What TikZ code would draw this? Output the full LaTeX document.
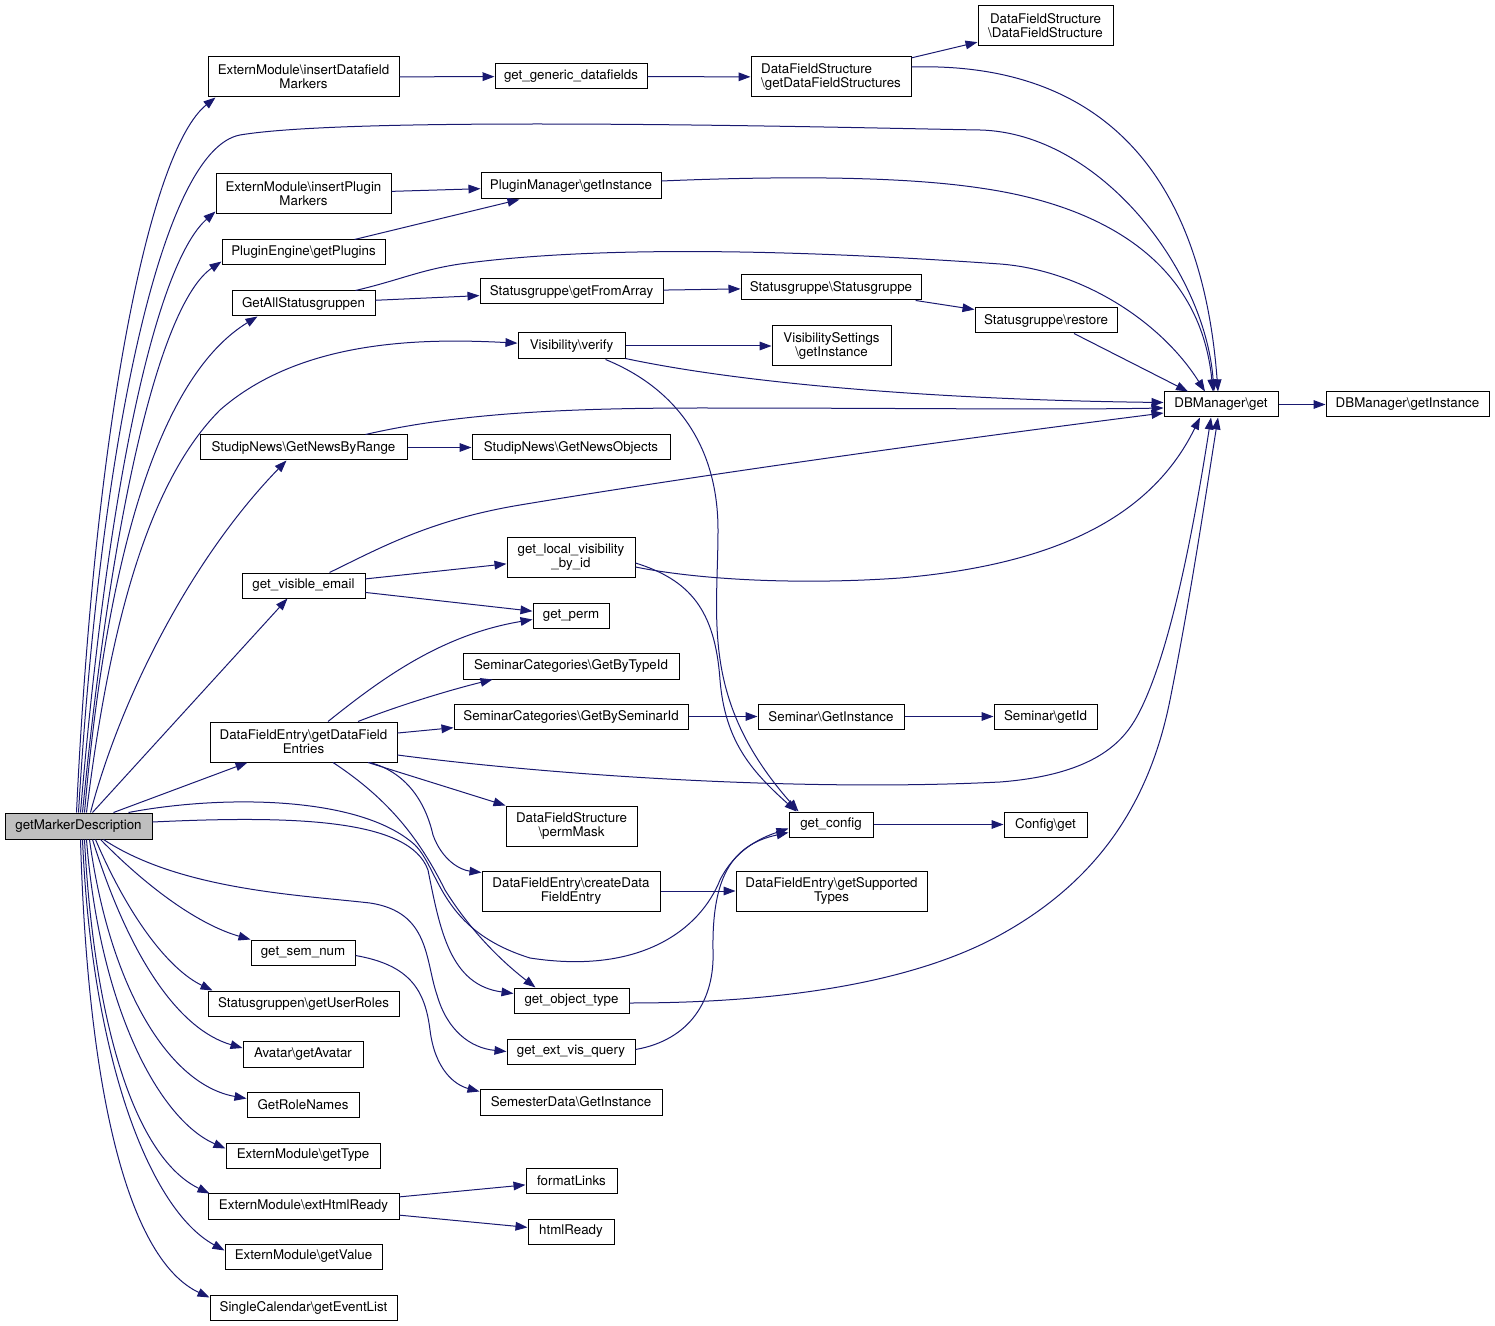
\documentclass[tikz,border=0pt]{standalone}
\usepackage{fontspec}
\setmainfont{TeX Gyre Heros}
\usetikzlibrary{arrows.meta,calc}
\definecolor{edgec}{HTML}{191970}
\definecolor{hl}{HTML}{BFBFBF}
\tikzset{
  fn/.style={draw=black, line width=0.75pt, fill=white, inner sep=0pt, align=center, font=\fontsize{10}{10.5}\selectfont},
  e/.style={draw=edgec, line width=0.75pt, -{Triangle[length=9pt,width=6.5pt]}, edgec},
}
\newcommand\mynode[7][]{%
  \pgfmathsetmacro\mnw{(#5-#3)*0.75}%
  \pgfmathsetmacro\mnh{(#6-#4)*0.75}%
  \node[fn,minimum width=\mnw pt,minimum height=\mnh pt,#1] (#2) at ({(#3+#5)/2},{(#4+#6)/2}) {#7};}
\begin{document}
\begin{tikzpicture}[x=0.75pt,y=-0.75pt]
\useasboundingbox (0,0) rectangle (1495,1326);
% nodes
\mynode[fill=hl]{gmd}{5}{813}{152}{839}{getMarkerDescription}
\mynode{eidm}{208}{57}{399}{97}{ExternModule\textbackslash insertDatafield\\Markers}
\mynode{ggd}{495}{64}{647}{89}{get\_generic\_datafields}
\mynode[align=left]{dfsget}{751}{57}{911}{97}{DataFieldStructure\\\textbackslash getDataFieldStructures}
\mynode{dfsdfs}{978}{6}{1113}{46}{DataFieldStructure\\\textbackslash DataFieldStructure}
\mynode{eipm}{216}{174}{391}{214}{ExternModule\textbackslash insertPlugin\\Markers}
\mynode{pmgi}{481}{173}{661}{199}{PluginManager\textbackslash getInstance}
\mynode{pegp}{222}{240}{385}{265}{PluginEngine\textbackslash getPlugins}
\mynode{gas}{232}{291}{375}{316}{GetAllStatusgruppen}
\mynode{sgfa}{480}{279}{663}{304}{Statusgruppe\textbackslash getFromArray}
\mynode{sgsg}{741}{275}{921}{300}{Statusgruppe\textbackslash Statusgruppe}
\mynode{sgr}{975}{308}{1117}{333}{Statusgruppe\textbackslash restore}
\mynode{vv}{518}{333}{625}{359}{Visibility\textbackslash verify}
\mynode{vsgi}{772}{326}{891}{366}{VisibilitySettings\\\textbackslash getInstance}
\mynode{dbget}{1164}{392}{1278}{417}{DBManager\textbackslash get}
\mynode{dbgi}{1326}{392}{1489}{417}{DBManager\textbackslash getInstance}
\mynode{sngr}{200}{435}{407}{460}{StudipNews\textbackslash GetNewsByRange}
\mynode{sngo}{472}{435}{670}{460}{StudipNews\textbackslash GetNewsObjects}
\mynode{gve}{242}{573}{365}{598}{get\_visible\_email}
\mynode{glv}{507}{537}{635}{577}{get\_local\_visibility\\\_by\_id}
\mynode{gp}{533}{603}{609}{628}{get\_perm}
\mynode{scti}{463}{653}{679}{679}{SeminarCategories\textbackslash GetByTypeId}
\mynode{dfe}{210}{722}{397}{762}{DataFieldEntry\textbackslash getDataField\\Entries}
\mynode{scsi}{454}{704}{688}{729}{SeminarCategories\textbackslash GetBySeminarId}
\mynode{sgi}{758}{704}{904}{729}{Seminar\textbackslash GetInstance}
\mynode{sgid}{994}{704}{1097}{729}{Seminar\textbackslash getId}
\mynode{pm}{506}{806}{637}{846}{DataFieldStructure\\\textbackslash permMask}
\mynode{gc}{789}{812}{873}{837}{get\_config}
\mynode{cg}{1004}{812}{1087}{837}{Config\textbackslash get}
\mynode{cdfe}{482}{871}{660}{911}{DataFieldEntry\textbackslash createData\\FieldEntry}
\mynode{gst}{736}{871}{927}{911}{DataFieldEntry\textbackslash getSupported\\Types}
\mynode{gsn}{251}{940}{355}{965}{get\_sem\_num}
\mynode{gur}{208}{991}{399}{1016}{Statusgruppen\textbackslash getUserRoles}
\mynode{got}{514}{988}{629}{1013}{get\_object\_type}
\mynode{gevq}{507}{1039}{635}{1064}{get\_ext\_vis\_query}
\mynode{ga}{243}{1041}{363}{1067}{Avatar\textbackslash getAvatar}
\mynode{sdgi}{480}{1089}{662}{1115}{SemesterData\textbackslash GetInstance}
\mynode{grn}{247}{1092}{359}{1117}{GetRoleNames}
\mynode{emgt}{226}{1143}{380}{1168}{ExternModule\textbackslash getType}
\mynode{fl}{526}{1168}{617}{1193}{formatLinks}
\mynode{ehr}{208}{1193}{399}{1219}{ExternModule\textbackslash extHtmlReady}
\mynode{hr}{528}{1219}{614}{1244}{htmlReady}
\mynode{egv}{225}{1244}{382}{1269}{ExternModule\textbackslash getValue}
\mynode{sce}{210}{1295}{397}{1320}{SingleCalendar\textbackslash getEventList}
% edges
\draw[e] (eidm) -- (ggd);
\draw[e] (ggd) -- (dfsget);
\draw[e] (dfsget) -- (dfsdfs);
\draw[e] ($(dfsget.east)+(0,-10)$) .. controls (1080,62) and (1200,150) .. ($(dbget.north)+(-3,0)$);
\draw[e] (gmd.north) .. controls (100,450) and (160,150) .. (240,135) .. controls (360,115) and (860,128) .. (980,130) .. controls (1100,133) and (1205,270) .. ($(dbget.north)+(-7,0)$);
\draw[e] ($(gmd.north)+(-2,0)$) .. controls (95,420) and (150,150) .. ($(eidm.south west)+(8,0)$);
\draw[e] ($(gmd.north)+(2,0)$) .. controls (110,460) and (160,260) .. ($(eipm.south west)+(0,-3)$);
\draw[e] ($(gmd.north)+(4,0)$) .. controls (115,480) and (165,300) .. ($(pegp.south west)+(0,-4)$);
\draw[e] ($(gmd.north)+(6,0)$) .. controls (110,520) and (170,370) .. ($(gas.south west)+(26,0)$);
\draw[e] ($(gmd.north)+(8,0)$) .. controls (110,620) and (150,480) .. (220,410) .. controls (300,340) and (420,338) .. (vv);
\draw[e] ($(gmd.north)+(12,0)$) .. controls (120,700) and (190,560) .. ($(sngr.south west)+(87,0)$);
\draw[e] ($(gmd.north)+(14,0)$) -- ($(gve.south west)+(46,0)$);
\draw[e] ($(gmd.north)+(35,0)$) -- ($(dfe.south west)+(38,0)$);
\draw[e] ($(gmd.north)+(50,0)$) .. controls (220,795) and (360,795) .. (415,845) .. controls (440,870) and (440,930) .. (530,958) .. controls (640,975) and (700,930) .. (720,880) .. controls (735,850) and (760,838) .. ($(gc.west)+(0,4)$);
\draw[e] ($(gmd.east)+(0,-4)$) .. controls (300,815) and (410,820) .. (428,870) .. controls (440,930) and (450,985) .. ($(got.west)+(0,-7)$);
\draw[e] ($(gmd.south)+(25,0)$) .. controls (180,890) and (300,895) .. (370,903) .. controls (430,912) and (425,960) .. (437,995) .. controls (447,1030) and (470,1048) .. (gevq.west);
\draw[e] ($(gmd.south)+(22,0)$) .. controls (150,890) and (200,925) .. (gsn.north west);
\draw[e] ($(gmd.south)+(17,0)$) .. controls (130,920) and (170,970) .. ($(gur.north west)+(5,0)$);
\draw[e] ($(gmd.south)+(14,0)$) .. controls (130,960) and (180,1030) .. ($(ga.west)+(0,-6)$);
\draw[e] ($(gmd.south)+(11,0)$) .. controls (110,990) and (170,1085) .. ($(grn.west)+(0,-6)$);
\draw[e] ($(gmd.south)+(8,0)$) .. controls (100,1010) and (160,1120) .. ($(emgt.west)+(0,-7)$);
\draw[e] ($(gmd.south)+(6,0)$) .. controls (95,1040) and (140,1160) .. ($(ehr.north west)+(2,1)$);
\draw[e] ($(gmd.south)+(4,0)$) .. controls (92,1060) and (150,1210) .. ($(egv.west)+(0,-6)$);
\draw[e] ($(gmd.south)+(2,0)$) .. controls (88,1100) and (130,1260) .. ($(sce.north west)+(0,3)$);
\draw[e] (eipm) -- (pmgi);
\draw[e] ($(pegp.north)+(51,0)$) -- ($(pmgi.south west)+(39,0)$);
\draw[e] ($(pmgi.east)+(0,-5)$) .. controls (780,176) and (900,176) .. (980,188) .. controls (1100,205) and (1200,260) .. ($(dbget.north)+(-8,0)$);
\draw[e] (gas) -- (sgfa);
\draw[e] ($(gas.north)+(52,0)$) .. controls (400,280) and (420,270) .. (460,264) .. controls (600,245) and (800,250) .. (1000,264) .. controls (1080,270) and (1160,320) .. ($(dbget.north)+(-16,0)$);
\draw[e] (sgfa) -- (sgsg);
\draw[e] (sgsg) -- (sgr);
\draw[e] ($(sgr.south)+(28,0)$) -- ($(dbget.north)+(-33,0)$);
\draw[e] (vv) -- (vsgi);
\draw[e] ($(vv.south east)+(0,-1)$) .. controls (750,385) and (950,400) .. ($(dbget.west)+(0,-2)$);
\draw[e] ($(vv.south)+(34,0)$) .. controls (680,390) and (718,450) .. (718,530) .. controls (718,620) and (700,700) .. ($(gc.north west)+(10,0)$);
\draw[e] ($(glv.east)+(0,6)$) .. controls (690,580) and (715,610) .. (720,680) .. controls (725,740) and (750,770) .. ($(gc.north west)+(8,0)$);
\draw[e] ($(glv.east)+(0,10)$) .. controls (700,580) and (800,585) .. (900,578) .. controls (1050,565) and (1150,520) .. ($(dbget.south)+(-21,0)$);
\draw[e] (sngr) -- (sngo);
\draw[e] ($(sngr.north)+(62,0)$) .. controls (450,415) and (550,408) .. (700,408) .. controls (900,408) and (1050,410) .. ($(dbget.west)+(0,3.5)$);
\draw[e] (gve) -- (glv);
\draw[e] (gve) -- (gp);
\draw[e] ($(gve.north)+(26,0)$) .. controls (380,548) and (430,520) .. (520,505) .. controls (700,475) and (950,440) .. ($(dbget.west)+(0,8.5)$);
\draw[e] ($(dfe.north)+(24.5,0)$) .. controls (380,680) and (440,635) .. ($(gp.west)+(0,4)$);
\draw[e] ($(dfe.north)+(54.5,0)$) .. controls (400,705) and (450,690) .. ($(scti.south west)+(30,0)$);
\draw[e] (dfe) -- (scsi);
\draw[e] (scsi) -- (sgi);
\draw[e] (sgi) -- (sgid);
\draw[e] ($(dfe.east)+(0,13)$) .. controls (550,775) and (800,792) .. (1000,782) .. controls (1090,775) and (1120,745) .. (1135,720) .. controls (1170,660) and (1195,520) .. ($(dbget.south)+(-10,0)$);
\draw[e] ($(dfe.south)+(64.5,0)$) -- (pm.north west);
\draw[e] ($(dfe.south)+(66.5,0)$) .. controls (405,772) and (425,800) .. (433,835) .. controls (442,860) and (460,870) .. ($(cdfe.north west)+(0,2)$);
\draw[e] ($(dfe.south)+(29.5,0)$) .. controls (390,800) and (420,840) .. (445,890) .. controls (470,930) and (500,960) .. ($(got.north)+(-36,0)$);
\draw[e] ($(got.east)+(0,2.5)$) .. controls (750,1003) and (900,990) .. (1000,935) .. controls (1100,880) and (1150,800) .. (1170,700) .. controls (1190,600) and (1205,500) .. ($(dbget.south)+(-3,0)$);
\draw[e] ($(gevq.east)+(0,-2)$) .. controls (690,1040) and (715,1000) .. (713,950) .. controls (712,880) and (730,845) .. ($(gc.west)+(0,8)$);
\draw[e] (gc) -- (cg);
\draw[e] (cdfe) -- (gst);
\draw[e] ($(gsn.east)+(0,3)$) .. controls (410,965) and (425,990) .. (430,1030) .. controls (435,1070) and (455,1085) .. ($(sdgi.north west)+(0,3)$);
\draw[e] (ehr) -- (fl);
\draw[e] (ehr) -- (hr);
\draw[e] (dbget) -- (dbgi);
\end{tikzpicture}
\end{document}
